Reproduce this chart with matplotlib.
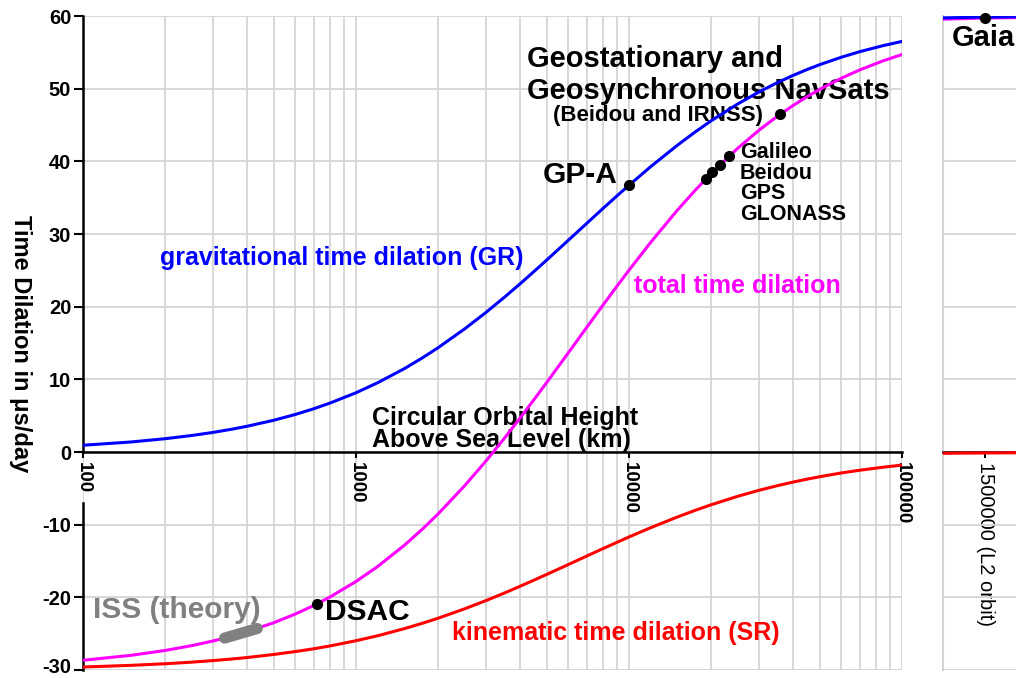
import matplotlib
matplotlib.use("Agg")
import matplotlib.pyplot as plt
import matplotlib.transforms as mtransforms
from matplotlib.ticker import LogLocator, FixedLocator, NullFormatter

plt.rcParams['font.family'] = ['Liberation Sans', 'DejaVu Sans']
plt.rcParams['axes.unicode_minus'] = False

# orbital height (km) and dilation (us/day)
height = [100, 150, 200, 250, 300, 350, 400, 500, 600, 700, 800, 1000, 1200, 1500, 1750,
          2000, 2500, 3000, 3500, 4000, 4500, 5000, 6000, 7000, 8000, 9000, 10000, 12000,
          15000, 17500, 20000, 25000, 30000, 35000, 40000, 45000, 50000, 60000, 70000,
          85000, 100000]
gr = [0.93, 1.38, 1.83, 2.27, 2.70, 3.13, 3.55, 4.37, 5.17, 5.95, 6.71, 8.15, 9.53, 11.45, 12.95,
      14.36, 16.94, 19.24, 21.31, 23.18, 24.88, 26.43, 29.15, 31.46, 33.46, 35.19, 36.71, 39.26,
      42.18, 44.06, 45.58, 47.89, 49.57, 50.84, 51.84, 52.65, 53.31, 54.33, 55.09,
      55.91, 56.50]
sr = [-29.59, -29.36, -29.14, -28.92, -28.70, -28.49, -28.28, -27.86, -27.46, -27.08, -26.70,
      -25.97, -25.29, -24.32, -23.57, -22.87, -21.58, -20.43, -19.40, -18.46, -17.61, -16.84,
      -15.48, -14.32, -13.32, -12.46, -11.69, -10.42, -8.96, -8.02, -7.26, -6.10, -5.26, -4.63,
      -4.13, -3.73, -3.40, -2.88, -2.51, -2.10, -1.80]
total = [-28.66, -27.98, -27.31, -26.65, -26.00, -25.36, -24.72, -23.49, -22.29, -21.13, -19.99,
         -17.82, -15.76, -12.87, -10.62, -8.51, -4.64, -1.19, 1.92, 4.72, 7.27, 9.59, 13.67,
         17.15, 20.13, 22.74, 25.02, 28.84, 33.23, 36.04, 38.32, 41.79, 44.31, 46.22, 47.71,
         48.92, 49.91, 51.45, 52.58, 53.81, 54.70]

# L2 panel
l2_height = [1000000, 1500000, 2100000]
l2_gr = [59.72, 59.85, 59.92]
l2_sr = [-0.19, -0.13, -0.09]
l2_total = [59.53, 59.72, 59.83]

# satellites
iss_h = [330, 435]
iss_t = [-25.61, -24.29]
dsac = (720, -20.90)
gpa = (10000, 36.71)
navsat_h = [19100, 20200, 21500, 23222, 35786]
navsat_t = [37.55, 38.48, 39.49, 40.69, 46.48]
gaia = (1500000, 59.72)

BLUE = '#0000ff'
MAG = '#ff00ff'
RED = '#ff0000'
GRID = '#d4d4d4'

fig = plt.figure(figsize=(10.16, 6.78), dpi=100)
ax = fig.add_axes([83/1016, 8/678, 819/1016, 654/678])
ax2 = fig.add_axes([943/1016, 8/678, 100/1016, 654/678])

# main panel
ax.set_xscale('log')
ax.set_xlim(100, 100000)
ax.set_ylim(-30, 60)
ax.set_yticks(range(-30, 61, 10))
ax.xaxis.set_major_locator(FixedLocator([100, 1000, 10000, 100000]))
ax.xaxis.set_minor_locator(LogLocator(base=10, subs=range(2, 10)))
ax.xaxis.set_minor_formatter(NullFormatter())
ax.set_xticklabels(['100', '1000', '10000', '100000'])
ax.grid(True, which='both', axis='x', color=GRID, lw=1.3)
ax.grid(True, which='major', axis='y', color=GRID, lw=1.3)
ax.set_axisbelow(True)

for s in ['top', 'right']:
    ax.spines[s].set_visible(False)
ax.spines['bottom'].set_position(('data', 0))
ax.spines['bottom'].set_linewidth(1.8)
ax.spines['left'].set_linewidth(1.8)
ax.spines['left'].set_bounds(0, 60)
ax.axvline(100, 0, 23/90, color='black', lw=1.8, clip_on=False, zorder=3)

ax.tick_params(axis='x', which='major', direction='out', length=4, width=1.5,
               labelrotation=270, labelsize=13.5, pad=3)
ax.tick_params(axis='x', which='minor', length=0)
ax.tick_params(axis='y', direction='out', length=6.5, width=1.5, labelsize=14.5, pad=2)
for lab in ax.get_xticklabels() + ax.get_yticklabels():
    lab.set_fontweight('bold')
# keep the bottom label inside the canvas
bottom_lab = ax.get_yticklabels()[0]
bottom_lab.set_transform(bottom_lab.get_transform() +
                         mtransforms.ScaledTranslation(0, 3/72, fig.dpi_scale_trans))

ax.plot(height, gr, color=BLUE, lw=2.2, zorder=4)
ax.plot(height, sr, color=RED, lw=2.2, zorder=4)
ax.plot(height, total, color=MAG, lw=2.2, zorder=4)

ax.plot(iss_h, iss_t, color='#808080', lw=8, solid_capstyle='round', zorder=5)
ax.plot(*dsac, 'o', color='black', ms=7, zorder=6)
ax.plot(*gpa, 'o', color='black', ms=7, zorder=6)
ax.plot(navsat_h, navsat_t, 'o', color='black', ms=7, zorder=6)

ax.text(4227, 56.0, 'Geostationary and\nGeosynchronous NavSats', fontsize=21,
        fontweight='bold', ha='left', va='top', linespacing=1.2)
ax.text(5272, 46.35, '(Beidou and IRNSS)', fontsize=16, fontweight='bold', va='center')
ax.text(4842, 38.1, 'GP-A', fontsize=21.5, fontweight='bold', va='center')
ax.text(25530, 42.6, 'Galileo\nBeidou\nGPS\nGLONASS', fontsize=15.5, fontweight='bold',
        va='top', linespacing=0.97)
ax.text(191, 26.7, 'gravitational time dilation (GR)', fontsize=18, fontweight='bold',
        color=BLUE, va='center')
ax.text(10420, 22.8, 'total time dilation', fontsize=18, fontweight='bold',
        color=MAG, va='center')
ax.text(2249, -24.9, 'kinematic time dilation (SR)', fontsize=18, fontweight='bold',
        color=RED, va='center')
ax.text(1145, 3.16, 'Circular Orbital Height\nAbove Sea Level (km)', fontsize=18,
        fontweight='bold', va='center', linespacing=0.9)
ax.text(769, -22.0, 'DSAC', fontsize=21.5, fontweight='bold', va='center')
ax.text(109, -21.7, 'ISS (theory)', fontsize=21.5, fontweight='bold', color='#808080', va='center')

fig.text(20/1016, 1 - 344/678, 'Time Dilation in \u03bcs/day', rotation=270, fontsize=17,
         fontweight='bold', ha='center', va='center')

# L2 panel
ax2.set_xlim(1080000, 2080000)
ax2.set_ylim(-30, 60)
ax2.set_yticks(range(-30, 61, 10))
ax2.set_yticklabels([])
ax2.tick_params(axis='y', length=0)
ax2.set_xticks([1500000])
ax2.set_xticklabels(['1500000 (L2 orbit)'])
ax2.tick_params(axis='x', direction='out', length=4, width=1.5, labelrotation=270,
                labelsize=14.5, pad=3)
for lab in ax2.get_xticklabels():
    lab.set_fontweight('bold')
ax2.grid(True, axis='y', color=GRID, lw=1.3)
ax2.set_axisbelow(True)
for s in ['top', 'right']:
    ax2.spines[s].set_visible(False)
ax2.spines['left'].set_color(GRID)
ax2.spines['left'].set_linewidth(1.5)
ax2.spines['bottom'].set_position(('data', 0))
ax2.spines['bottom'].set_linewidth(1.8)

ax2.plot(l2_height, l2_total, color=MAG, lw=2.2, zorder=4)
ax2.plot(l2_height, l2_gr, color=BLUE, lw=2.2, zorder=4)
ax2.plot(l2_height, l2_sr, color=RED, lw=2.2, zorder=4)
ax2.plot(*gaia, 'o', color='black', ms=7, zorder=6, clip_on=False)
ax2.text(1170000, 57.0, 'Gaia', fontsize=21, fontweight='bold', va='center')

fig.savefig('out.png', dpi=100)
